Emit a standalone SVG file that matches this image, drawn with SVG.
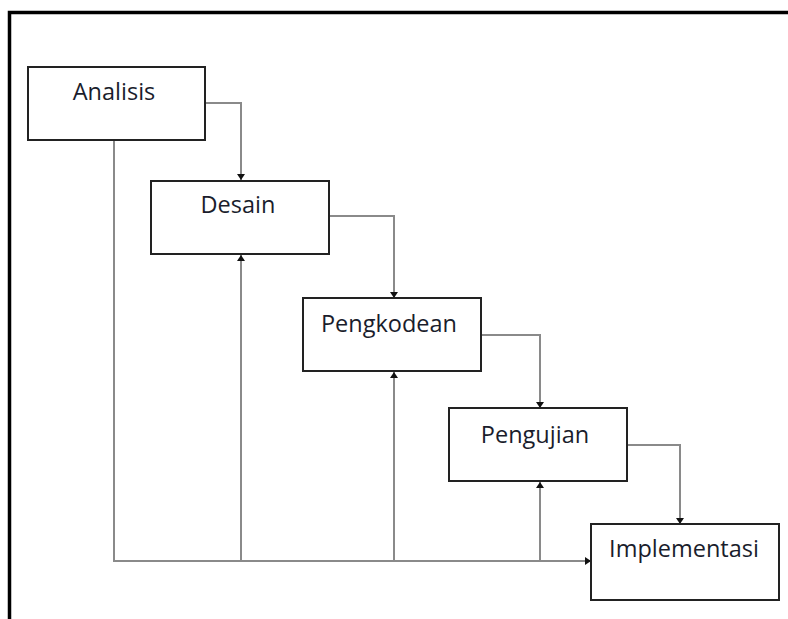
<svg xmlns="http://www.w3.org/2000/svg" width="788" height="619" viewBox="0 0 788 619">
<style>
.box{fill:#fff;stroke:#222;stroke-width:2}
.lbl{font-family:"Open Sans","Noto Sans","DejaVu Sans",sans-serif;font-size:23.5px;fill:#1a1d2c;text-anchor:middle}
.con{fill:none;stroke:#8a8a8a;stroke-width:2}
</style>
<defs>
<marker id="ah" viewBox="0 0 6 8" refX="6" refY="4" markerWidth="6" markerHeight="8" markerUnits="userSpaceOnUse" orient="auto">
<path d="M0,0 L6,4 L0,8 z" fill="#111"/>
</marker>
</defs>
<rect width="788" height="619" fill="#fff"/>
<g id="frame">
<path d="M9.5,619 L9.5,12.5 L788,12.5" fill="none" stroke="#000" stroke-width="3.5"/>
</g>
<g id="connectors">
<path class="con" d="M205,103 H241 V180" marker-end="url(#ah)"/>
<path class="con" d="M329,216 H394 V298" marker-end="url(#ah)"/>
<path class="con" d="M481,335 H540 V408" marker-end="url(#ah)"/>
<path class="con" d="M627,445 H680 V524" marker-end="url(#ah)"/>
<path class="con" d="M114,140 V561 H591" marker-end="url(#ah)"/>
<path class="con" d="M241,561 V255" marker-end="url(#ah)"/>
<path class="con" d="M394,561 V372" marker-end="url(#ah)"/>
<path class="con" d="M540,561 V482" marker-end="url(#ah)"/>
</g>
<g id="analisis">
<rect class="box" x="28" y="67" width="177" height="73"/>
<text class="lbl" x="114" y="100">Analisis</text>
</g>
<g id="desain">
<rect class="box" x="151" y="181" width="178" height="73"/>
<text class="lbl" x="238" y="213">Desain</text>
</g>
<g id="pengkodean">
<rect class="box" x="303" y="298" width="178" height="73"/>
<text class="lbl" x="389" y="332">Pengkodean</text>
</g>
<g id="pengujian">
<rect class="box" x="449" y="408" width="178" height="73"/>
<text class="lbl" x="535" y="443">Pengujian</text>
</g>
<g id="implementasi">
<rect class="box" x="591" y="524" width="188" height="76"/>
<text class="lbl" x="684" y="557">Implementasi</text>
</g>
</svg>
